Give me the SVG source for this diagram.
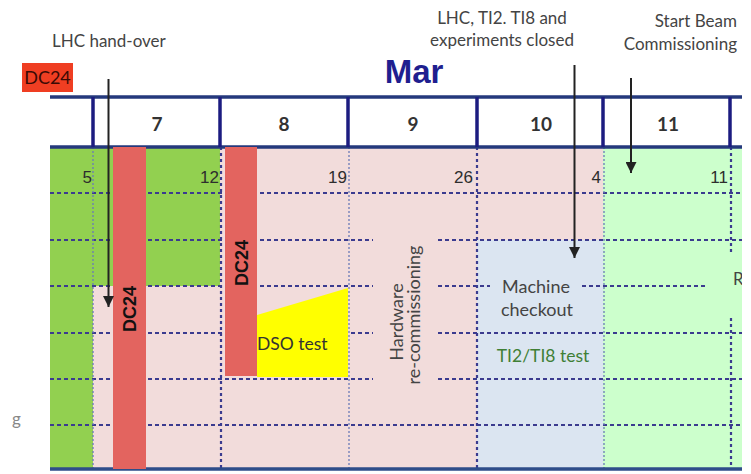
<svg xmlns="http://www.w3.org/2000/svg" width="751" height="474" viewBox="0 0 751 474">
<defs>
<style>
.lbl{font-family:Lato,"Liberation Sans",sans-serif;fill:#444;font-size:17px}
.hd{font-family:Lato,"Liberation Sans",sans-serif;font-weight:bold;fill:#333;font-size:19px;text-anchor:middle}
.day{font-family:"Liberation Sans",sans-serif;fill:#2d2d2d;font-size:17px;text-anchor:end}
.bar{fill:#e3645f}
.bt{font-family:"Liberation Sans",sans-serif;font-weight:bold;fill:#111;font-size:18px;text-anchor:middle}
.tx{font-family:Lato,"Liberation Sans",sans-serif;fill:#444;font-size:18px;text-anchor:middle}
.dot{stroke:#3b3b8f;stroke-width:2;stroke-dasharray:4 3;fill:none}
.vthin{stroke:#6a7ab8;stroke-width:1.3;stroke-dasharray:2 2;fill:none}
.vthick{stroke:#3b3b8f;stroke-width:2.2;stroke-dasharray:3 3;fill:none}
.hline{stroke:#24397c;stroke-width:3.5}
.vline{stroke:#1c1c80;stroke-width:3.5}
.arr{stroke:#222;stroke-width:2;fill:none;marker-end:url(#ah)}
</style>
<marker id="ah" viewBox="0 0 10 10" refX="10" refY="5" markerWidth="5.5" markerHeight="5.5" orient="auto" markerUnits="strokeWidth">
<path d="M0,0 L10,5 L0,10 z" fill="#222"/>
</marker>
</defs>
<rect width="751" height="474" fill="#fff"/>

<g id="fills">
<rect x="50" y="147" width="43" height="322" fill="#92d050"/>
<rect x="93" y="147" width="127" height="139" fill="#92d050"/>
<rect x="93" y="286" width="127" height="183" fill="#f2dcdb"/>
<rect x="220" y="147" width="257" height="322" fill="#f2dcdb"/>
<rect x="477" y="147" width="126" height="93" fill="#f2dcdb"/>
<rect x="477" y="240" width="126" height="229" fill="#dbe5f1"/>
<rect x="603" y="147" width="139" height="322" fill="#ccffcc"/>
</g>

<g id="grid">
<line class="dot" x1="50" y1="193" x2="742" y2="193"/>
<line class="dot" x1="50" y1="240" x2="373" y2="240"/>
<line class="dot" x1="438" y1="240" x2="742" y2="240"/>
<line class="dot" x1="50" y1="286" x2="373" y2="286"/>
<line class="dot" x1="438" y1="286" x2="490" y2="286"/>
<line class="dot" x1="582" y1="286" x2="707" y2="286"/>
<line class="dot" x1="50" y1="333" x2="373" y2="333"/>
<line class="dot" x1="438" y1="333" x2="742" y2="333"/>
<line class="dot" x1="50" y1="379" x2="373" y2="379"/>
<line class="dot" x1="438" y1="379" x2="742" y2="379"/>
<line class="dot" x1="50" y1="425" x2="742" y2="425"/>
<line class="vthin" x1="93" y1="147" x2="93" y2="469"/>
<line class="vthick" x1="221" y1="147" x2="221" y2="469"/>
<line class="vthin" x1="349" y1="147" x2="349" y2="469"/>
<line class="vthick" x1="477" y1="147" x2="477" y2="469"/>
<line class="vthin" x1="604" y1="147" x2="604" y2="469"/>
<line class="vthick" x1="731" y1="147" x2="731" y2="255"/>
<line class="vthick" x1="731" y1="318" x2="731" y2="469"/>
</g>

<g id="header">
<rect x="50" y="97" width="692" height="50" fill="#fff"/>
<line class="hline" x1="50" y1="97" x2="742" y2="97"/>
<line class="hline" x1="50" y1="147" x2="742" y2="147"/>
<line class="vline" x1="93" y1="97" x2="93" y2="147"/>
<line class="vline" x1="220" y1="97" x2="220" y2="147"/>
<line class="vline" x1="348" y1="97" x2="348" y2="147"/>
<line class="vline" x1="477" y1="97" x2="477" y2="147"/>
<line class="vline" x1="603" y1="97" x2="603" y2="147"/>
<line class="vline" x1="730" y1="97" x2="730" y2="147"/>
<text class="hd" x="157" y="131">7</text>
<text class="hd" x="284" y="131">8</text>
<text class="hd" x="413" y="131">9</text>
<text class="hd" x="541" y="131">10</text>
<text class="hd" x="668" y="131">11</text>
<text x="414" y="83" font-family="Liberation Sans,sans-serif" font-weight="bold" font-size="33" fill="#1f1f8f" text-anchor="middle">Mar</text>
</g>

<g id="days">
<text class="day" x="92" y="183">5</text>
<text class="day" x="219" y="183">12</text>
<text class="day" x="347" y="183">19</text>
<text class="day" x="473" y="183">26</text>
<text class="day" x="601" y="183">4</text>
<text class="day" x="728" y="183">11</text>
</g>

<line x1="50" y1="469" x2="742" y2="469" stroke="#2e4d8a" stroke-width="3.5"/>

<g id="dc24-tag">
<rect x="22" y="63" width="51" height="29" fill="#ef3e22"/>
<text x="47.5" y="84" font-family="Lato,'Liberation Sans',sans-serif" font-size="18" fill="#3a0a05" text-anchor="middle">DC24</text>
</g>

<g id="dc24-bar1">
<rect class="bar" x="113" y="147" width="33" height="322"/>
<text class="bt" transform="translate(136,309) rotate(-90)">DC24</text>
</g>

<g id="dso-test">
<polygon points="257,315 348,288 348,377 257,377" fill="#ffff00"/>
<text x="257" y="350" font-family="Lato,'Liberation Sans',sans-serif" font-size="17.5" fill="#333">DSO test</text>
</g>

<g id="dc24-bar2">
<rect class="bar" x="225" y="147" width="32" height="229"/>
<text class="bt" transform="translate(248,263) rotate(-90)">DC24</text>
</g>

<g id="hw-recomm">
<text class="tx" transform="translate(403,322) rotate(-90)">Hardware</text>
<text class="tx" transform="translate(420,315) rotate(-90)">re-commissioning</text>
</g>

<g id="machine-checkout">
<text class="tx" x="536" y="293">Machine</text>
<text class="tx" x="537" y="316">checkout</text>
</g>

<g id="ti-test">
<text x="543" y="362" font-family="Lato,'Liberation Sans',sans-serif" font-size="17.5" fill="#3f7f35" text-anchor="middle">TI2/TI8 test</text>
</g>

<g id="r-cut">
<svg x="725" y="265" width="17" height="30" overflow="hidden">
<text x="8" y="20" font-family="Lato,'Liberation Sans',sans-serif" font-size="17" fill="#444">Re</text>
</svg>
</g>

<g id="g-lbl">
<text x="12" y="425" font-family="Lato,'Liberation Sans',sans-serif" font-size="17" fill="#888">g</text>
</g>

<g id="labels">
<text class="lbl" x="52" y="47" font-size="17.5">LHC hand-over</text>
<text class="lbl" x="502" y="24" text-anchor="middle">LHC, TI2. TI8 and</text>
<text class="lbl" x="502" y="46" text-anchor="middle" font-size="18">experiments closed</text>
<text class="lbl" x="737" y="27" text-anchor="end" font-size="18.5">Start Beam</text>
<text class="lbl" x="737" y="50" text-anchor="end" font-size="18.5">Commissioning</text>
</g>

<g id="connectors">
<line class="arr" x1="108.5" y1="79" x2="108.5" y2="307"/>
<line class="arr" x1="574.5" y1="65" x2="574.5" y2="258"/>
<line class="arr" x1="631" y1="78" x2="631" y2="173"/>
</g>
</svg>
